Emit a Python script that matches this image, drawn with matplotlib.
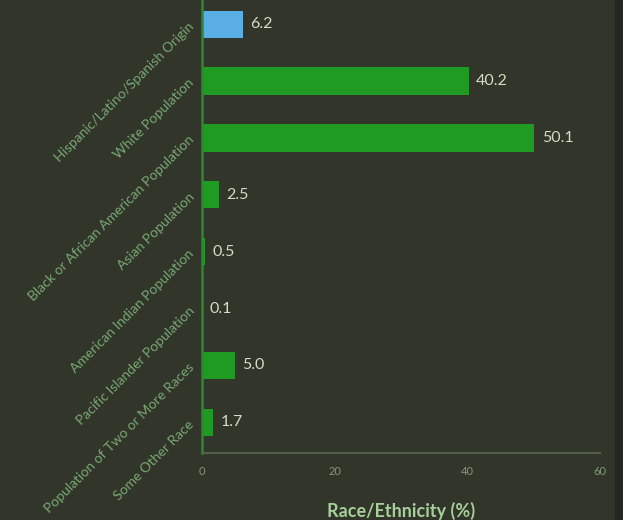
import matplotlib.pyplot as plt
from matplotlib.patches import Rectangle

# Race / ethnicity breakdown (percent of population)
categories = [
    "Hispanic/Latino/Spanish Origin",
    "White Population",
    "Black or African American Population",
    "Asian Population",
    "American Indian Population",
    "Pacific Islander Population",
    "Population of Two or More Races",
    "Some Other Race",
]
values = [6.2, 40.2, 50.1, 2.5, 0.5, 0.1, 5.0, 1.7]
bar_colors = ["#5aaee6"] + ["#1f9a22"] * 7
x_ticks = [0, 20, 40, 60]

bg = "#31352a"
plt.rcParams["font.family"] = ["Lato", "DejaVu Sans"]

fig = plt.figure(figsize=(6.23, 5.2), dpi=100, facecolor=bg)
ax = fig.add_axes([0.3242, 0.1288, 0.6389, 0.8925], facecolor=bg)

# darker strip on the right edge of the panel
fig.patches.append(Rectangle((0.987, 0), 0.013, 1, transform=fig.transFigure,
                             facecolor="#24271f", edgecolor="none"))

pos = list(range(len(categories)))
ax.barh(pos, values, height=0.48, color=bar_colors)
for p, v in zip(pos, values):
    ax.text(v + 1.1, p, f"{v:.1f}", va="center", ha="left",
            color="#d6dac6", fontsize=11.5)

ax.set_ylim(len(categories) - 0.46, -0.62)
ax.set_xlim(0, 60)
ax.set_xticks(x_ticks)
ax.set_xticklabels([str(t) for t in x_ticks], color="#7f9c76", fontsize=8)
ax.set_yticks(pos)
ax.set_yticklabels(categories, rotation=45, ha="right", va="center",
                   rotation_mode="anchor", color="#79a872", fontsize=10)
ax.tick_params(axis="y", length=0, pad=7)
ax.tick_params(axis="x", length=0, pad=9)

for side in ("top", "right"):
    ax.spines[side].set_visible(False)
ax.spines["left"].set_color("#2a8a2c")
ax.spines["left"].set_linewidth(1.8)
ax.spines["bottom"].set_color("#526249")
ax.spines["bottom"].set_linewidth(1.5)

ax.set_xlabel("Race/Ethnicity (%)", color="#a6cf9b", fontsize=13,
              fontweight="bold", labelpad=18)

fig.savefig("out.png", dpi=100, facecolor=bg)
